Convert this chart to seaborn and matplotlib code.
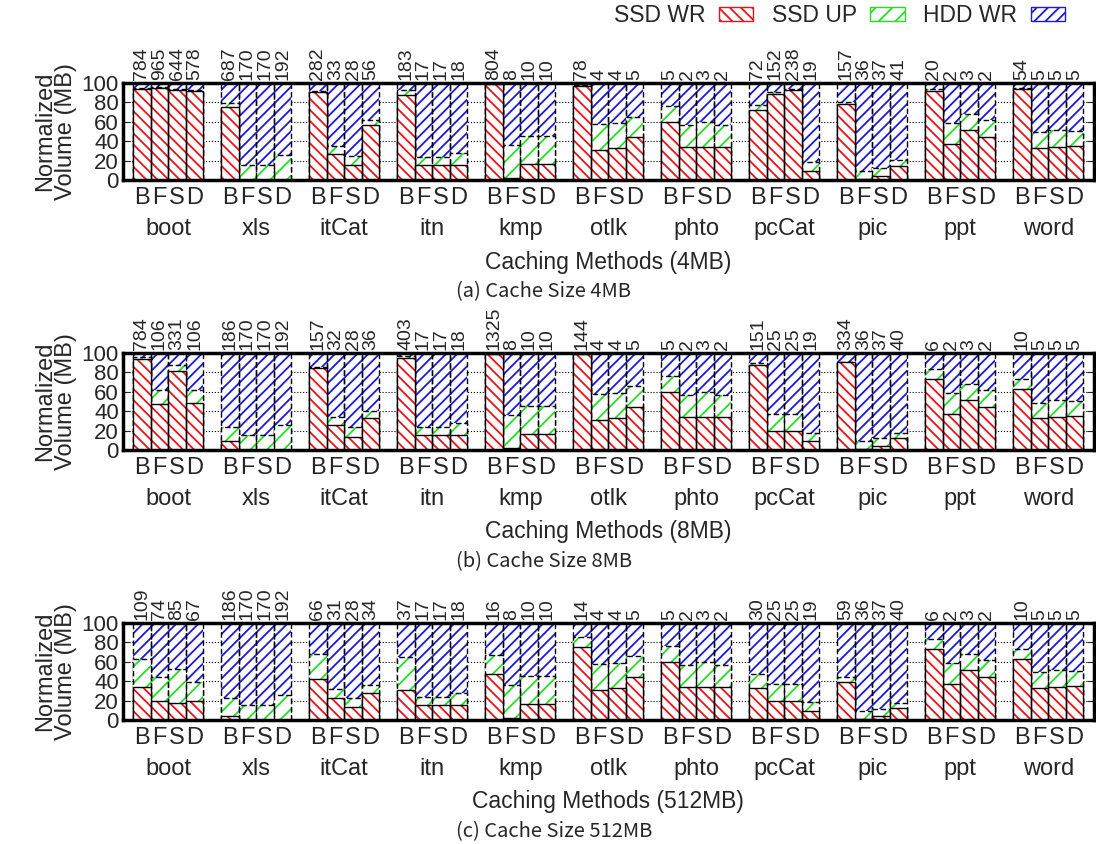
import numpy as np
import pandas as pd
import seaborn as sns

import matplotlib
matplotlib.use('Agg')
import matplotlib.pyplot as plt
from matplotlib.patches import Rectangle, Patch

workloads = ['boot', 'xls', 'itCat', 'itn', 'kmp', 'otlk', 'phto', 'pcCat', 'pic', 'ppt', 'word']
methods = ['B', 'F', 'S', 'D']

# normalized share (%) per bar, 4 bars (B F S D) per workload, HDD WR is the rest up to 100
ssd_wr_4mb = [93.8, 94.8, 92.4, 91.7,  75.0, 0.0, 0.0, 0.0,  90.7, 27.0, 15.0, 57.0,
              88.0, 15.5, 15.0, 15.5,  99.5, 1.7, 17.0, 17.0,  96.5, 31.0, 32.8, 44.0,
              59.7, 33.8, 34.0, 33.8,  72.4, 89.0, 93.0, 9.7,  78.3, 1.4, 4.0, 14.5,
              92.0, 37.0, 51.7, 44.0,  93.8, 33.0, 34.5, 35.5]
ssd_up_4mb = [1.2, 1.2, 1.6, 1.3,  4.0, 15.0, 15.5, 25.5,  1.3, 8.0, 10.0, 5.0,
              5.0, 8.5, 8.5, 12.1,  0.5, 34.3, 28.5, 28.5,  1.0, 26.6, 26.2, 21.5,
              16.3, 23.2, 26.0, 23.2,  5.2, 1.3, 0.5, 8.9,  1.7, 8.3, 8.0, 6.2,
              2.0, 21.6, 16.3, 18.0,  1.2, 16.3, 17.2, 15.2]
total_4mb = [784, 965, 644, 578,  687, 170, 170, 192,  282, 33, 28, 56,  183, 17, 17, 18,
             804, 8, 10, 10,  78, 4, 4, 5,  5, 2, 3, 2,  72, 152, 238, 19,
             157, 36, 37, 41,  20, 2, 3, 2,  54, 5, 5, 5]

ssd_wr_8mb = [94.0, 47.0, 82.0, 49.0,  9.0, 0.0, 0.0, 0.0,  85.0, 25.5, 13.0, 33.0,
              94.5, 15.5, 15.0, 15.5,  99.5, 1.7, 17.0, 17.0,  99.0, 31.0, 32.8, 44.0,
              59.7, 33.8, 34.0, 33.8,  88.0, 20.0, 20.0, 9.7,  90.3, 1.4, 4.0, 12.0,
              73.4, 37.0, 51.7, 44.0,  62.8, 33.0, 34.5, 35.5]
ssd_up_8mb = [2.0, 15.0, 6.0, 13.0,  14.4, 15.0, 15.0, 26.0,  1.0, 9.0, 10.5, 7.0,
              2.0, 8.5, 9.0, 12.0,  0.5, 34.3, 28.5, 28.5,  0.5, 26.6, 26.2, 22.0,
              16.3, 23.2, 26.0, 23.2,  1.7, 17.0, 17.0, 8.3,  0.7, 8.3, 8.0, 6.0,
              10.6, 21.6, 16.3, 18.0,  10.6, 16.0, 17.2, 15.2]
total_8mb = [784, 106, 331, 106,  186, 170, 170, 192,  157, 32, 28, 36,  403, 17, 17, 18,
             1325, 8, 10, 10,  144, 4, 4, 5,  5, 2, 3, 2,  151, 25, 25, 19,
             334, 36, 37, 40,  6, 2, 3, 2,  10, 5, 5, 5]

ssd_wr_512mb = [34.5, 19.7, 17.2, 19.7,  4.5, 0.0, 0.0, 0.0,  42.0, 22.8, 13.0, 28.3,
                31.0, 15.5, 15.2, 15.5,  47.0, 1.7, 17.0, 17.0,  74.8, 31.0, 32.8, 44.0,
                59.7, 33.8, 34.0, 33.8,  33.4, 20.0, 20.0, 9.7,  39.3, 1.4, 4.0, 12.0,
                73.4, 37.0, 51.7, 44.0,  62.8, 33.0, 34.5, 35.5]
ssd_up_512mb = [28.3, 25.1, 35.2, 20.0,  18.5, 15.0, 15.0, 25.5,  25.6, 9.2, 10.0, 7.9,
                33.8, 8.5, 8.6, 12.1,  20.0, 34.3, 28.0, 28.0,  10.7, 26.6, 26.2, 21.5,
                16.3, 23.2, 26.0, 23.2,  14.2, 17.0, 17.0, 8.9,  4.7, 8.3, 7.7, 6.0,
                10.6, 21.6, 16.3, 18.0,  10.6, 16.3, 17.2, 15.5]
total_512mb = [109, 74, 85, 67,  186, 170, 170, 192,  66, 31, 28, 34,  37, 17, 17, 18,
               16, 8, 10, 10,  14, 4, 4, 5,  5, 2, 3, 2,  30, 25, 25, 19,
               59, 36, 37, 40,  6, 2, 3, 2,  10, 5, 5, 5]

panels = [
    ('4MB', '(a)', ssd_wr_4mb, ssd_up_4mb, total_4mb),
    ('8MB', '(b)', ssd_wr_8mb, ssd_up_8mb, total_8mb),
    ('512MB', '(c)', ssd_wr_512mb, ssd_up_512mb, total_512mb),
]

RED = '#e8141a'
GREEN = '#22e022'
BLUE = '#1a1ad8'
H_RED = '\\\\\\'
H_GREEN = '//'
H_BLUE = '///'

sns.set_style('white')
plt.rcParams['font.family'] = ['Liberation Sans', 'DejaVu Sans']
plt.rcParams['hatch.linewidth'] = 1.3

fig = plt.figure(figsize=(10.96, 8.44), dpi=100)

# position of each bar: 4 bars per workload, one empty slot between workloads
pos = np.array([g * 5 + i for g in range(len(workloads)) for i in range(len(methods))], dtype=float)

bottoms = [0.7867, 0.4668, 0.1469]
xlab_y = [0.6884, 0.3697, 0.0498]
cap_y = [0.6540, 0.3340, 0.0142]

for k, (size, tag, wr, up, tot) in enumerate(panels):
    ax = fig.add_axes([0.1122, bottoms[k], 0.886, 0.1149])
    df = pd.DataFrame({'pos': pos, 'wr': wr, 'up': up})
    df['cum'] = df['wr'] + df['up']
    df['all'] = 100.0

    # stacked look: full bar (HDD WR), then SSD WR + SSD UP, then SSD WR on top
    layers = [('all', H_BLUE, BLUE, (0, (4, 2))),
              ('cum', H_GREEN, GREEN, (0, (4, 2))),
              ('wr', H_RED, RED, '-')]
    for col, hatch, hcol, ls in layers:
        n0 = len(ax.patches)
        sns.barplot(data=df, x='pos', y=col, native_scale=True, width=1.0,
                    color='white', saturation=1, errorbar=None, linewidth=0, ax=ax)
        bars = list(ax.patches[n0:])
        for b in bars:
            b.set_facecolor('white')
            b.set_edgecolor(hcol)
            b.set_hatch(hatch)
            b.set_linewidth(0)
            ax.add_patch(Rectangle(b.get_xy(), b.get_width(), b.get_height(),
                                   fill=False, ec='black', lw=1.0, ls=ls))

    for x, t in zip(pos, tot):
        ax.text(x, 103.5, str(t), rotation=90, ha='center', va='bottom',
                fontsize=14, clip_on=False)

    ax.set_xlim(-1.07, 54.1)
    ax.set_ylim(0, 100)
    ax.set_yticks(range(0, 101, 20))
    ax.yaxis.grid(True, ls=':', color='black', lw=0.8)
    ax.set_axisbelow(True)
    ax.tick_params(axis='y', direction='in', length=5, left=True, right=True,
                   labelsize=16, pad=3)
    ax.set_xticks(pos)
    ax.set_xticklabels(methods * len(workloads), fontsize=17)
    ax.tick_params(axis='x', length=0, pad=5)
    ax.set_xlabel('')
    ax.set_ylabel('Normalized\nVolume (MB)', fontsize=17, linespacing=0.95, labelpad=3)
    for s in ax.spines.values():
        s.set_linewidth(2.5)
        s.set_color('black')

    for g, name in enumerate(workloads):
        ax.annotate(name, xy=(g * 5 + 1.5, 0), xycoords=('data', 'axes fraction'),
                    xytext=(0, -35), textcoords='offset points',
                    ha='center', va='center', fontsize=17,
                    family=['Liberation Sans Narrow', 'Liberation Sans'])

    fig.text(0.555, xlab_y[k], 'Caching Methods (%s)' % size, ha='center', va='center',
             fontsize=16.5)
    fig.text(0.416, cap_y[k], '%s Cache Size %s' % (tag, size), ha='left', va='center',
             fontsize=14.5, family=['Noto Sans CJK KR', 'DejaVu Sans'])

handles = [Patch(facecolor='white', edgecolor=RED, hatch=H_RED, lw=1),
           Patch(facecolor='white', edgecolor=GREEN, hatch=H_GREEN, lw=1),
           Patch(facecolor='white', edgecolor=BLUE, hatch=H_BLUE, lw=1)]
fig.legend(handles=handles, labels=['SSD WR', 'SSD UP', 'HDD WR'], loc='upper right',
           bbox_to_anchor=(0.972, 0.995), ncol=3, frameon=False, fontsize=16.5,
           handlelength=1.5, handleheight=0.55, handletextpad=0.6, columnspacing=0.8,
           markerfirst=False, borderpad=0, borderaxespad=0)

fig.savefig('out.png', dpi=100)
